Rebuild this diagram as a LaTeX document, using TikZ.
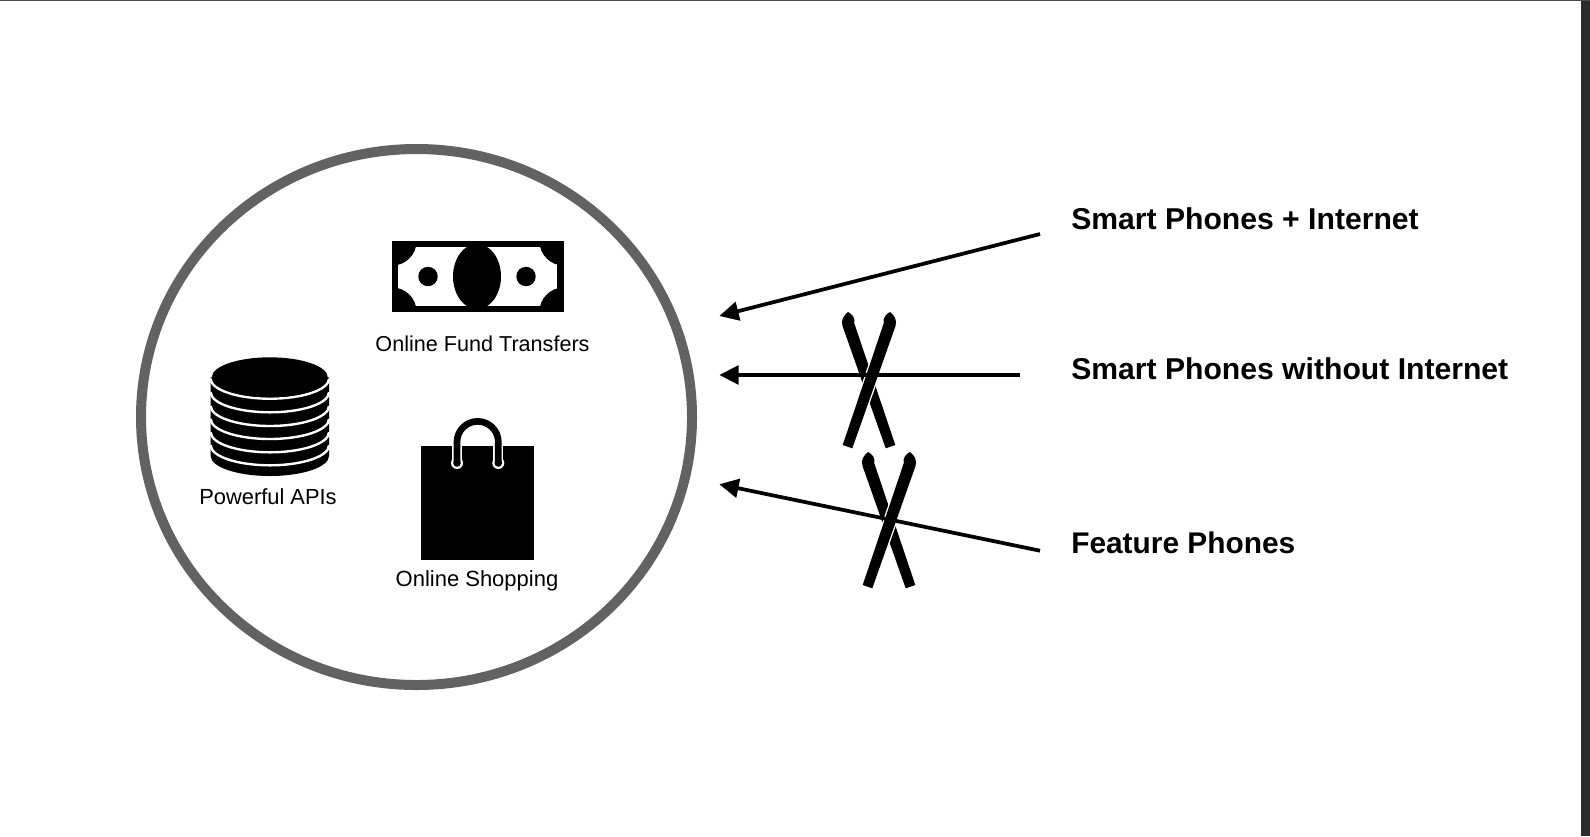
\documentclass[tikz,border=0pt]{standalone}
\usepackage{fontspec}
\setmainfont{Liberation Sans}
\usetikzlibrary{arrows.meta}
\definecolor{hubgray}{HTML}{626262}
\definecolor{edgedark}{HTML}{2B2B2B}
\tikzset{
  x=0.75pt,y=-0.75pt,
  small label/.style={anchor=base,inner sep=0pt,font=\fontsize{16.4}{19}\selectfont},
  big label/.style={anchor=base west,inner sep=0pt,font=\fontsize{22.6}{27}\selectfont\bfseries},
  flow/.style={draw=black,line width=2.8pt,-{Triangle[length=14.5pt,width=14pt]}},
}
\newcommand{\skipath}{(-26.3,133) -- (-16.7,136.3) -- (26.5,14) .. controls (28.5,8) and (25,3) .. (21,0) .. controls (17,2) and (13.5,6) .. (14.8,11) -- cycle}
\newcommand{\skimark}[2]{%
  \begin{scope}[shift={(#1,#2)}]
    \begin{scope}[xscale=-1]\fill[black] \skipath;\end{scope}
    \draw[white,line width=2pt] \skipath;
    \fill[black] \skipath;
  \end{scope}}
\begin{document}
\begin{tikzpicture}
\useasboundingbox (0,0) rectangle (1590,836);
\fill[white] (0,0) rectangle (1590,836);
\fill[edgedark] (1581,0) rectangle (1590,836);
\fill[edgedark!85!white] (0,0) rectangle (1590,1);
% hub circle
\draw[hubgray,line width=7.5pt] (416.5,417) ellipse [x radius=275.5,y radius=268];
% banknote
\fill[black] (392,241) rectangle (564,312);
\begin{scope}
  \clip (398,247.3) rectangle (557,306);
  \fill[white] (398,247.3) rectangle (557,306);
  \foreach \cx/\cy in {392/241,564/241,392/312,564/312}
    \fill[black] (\cx,\cy) circle [radius=24.6];
  \fill[black] (477,276.5) ellipse [x radius=24,y radius=32.6];
\end{scope}
\fill[black] (428,276.5) circle [radius=9.7];
\fill[black] (526,276.5) circle [radius=9.7];
\node[small label,font=\fontsize{16.2}{19}\selectfont] (fund) at (482.5,351.5) {Online Fund Transfers};
% database
\fill[black] (210.7,377.3) -- (329,377.3) -- (329,456) arc [start angle=0,end angle=180,x radius=59.15,y radius=20] -- cycle;
\foreach \d in {378.7,392.3,406,419,432.3,445.3}
  \draw[white,line width=1.8pt] (210.7,\d) arc [start angle=180,end angle=0,x radius=59.15,y radius=20];
\fill[black] (269.8,377.3) ellipse [x radius=58,y radius=20];
\node[small label] (apis) at (268,504.5) {Powerful APIs};
% bag
\fill[black] (421,446) rectangle (534,560);
\draw[white,line width=7.6pt] (457,446) -- (457,463);
\draw[white,line width=7.6pt] (498.3,446) -- (498.3,463);
\fill[white] (457,463) circle [radius=6];
\fill[white] (498.3,463) circle [radius=6];
\fill[black] (457,463) circle [radius=3.8];
\fill[black] (498.3,463) circle [radius=3.8];
\draw[black,line width=5pt] (457,463) -- (457,442) arc [start angle=180,end angle=360,radius=20.65] -- (498.3,463);
\node[small label,font=\fontsize{16.5}{19}\selectfont] (shop) at (477,586) {Online Shopping};
% crossed skis
\skimark{869}{312}
\skimark{889}{452}
% labels
\node[big label] (smartnet) at (1071,229) {Smart Phones + Internet};
\node[big label] (smartno) at (1071,379) {Smart Phones without Internet};
\node[big label,font=\fontsize{22.4}{27}\selectfont\bfseries] (feature) at (1071,553.5) {Feature Phones};
% arrows
\coordinate (a1s) at (1040,234);
\coordinate (a1e) at (719.3,316);
\coordinate (a2s) at (1020,375);
\coordinate (a2e) at (719.3,375);
\coordinate (a3s) at (1040,550.7);
\coordinate (a3e) at (719.3,484.3);
\draw[flow] (a1s) -- (a1e);
\draw[flow] (a2s) -- (a2e);
\draw[flow] (a3s) -- (a3e);
\end{tikzpicture}
\end{document}
